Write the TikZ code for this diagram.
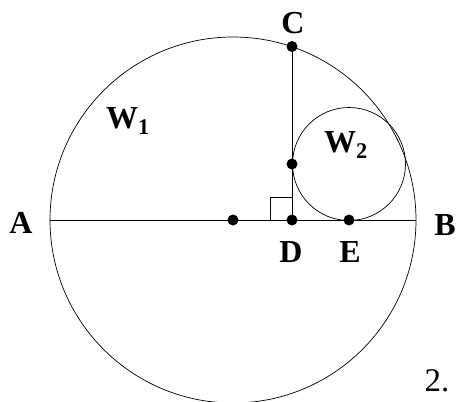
\documentclass[tikz,border=0pt]{standalone}
\usepackage{fontspec}
\setmainfont{Liberation Serif}
\tikzset{
  lbl/.style={font=\bfseries\fontsize{32}{32}\selectfont, inner sep=0pt},
  pt/.style={circle, fill=black, minimum size=11pt, inner sep=0pt},
  thin line/.style={line width=0.9pt}
}
\begin{document}
\begin{tikzpicture}[x=1pt,y=-1pt]
\useasboundingbox (0,0) rectangle (457,401);
% points
\coordinate (A) at (50,220);
\coordinate (B) at (416,220);
\coordinate (O) at (233,220);
\coordinate (D) at (292,220);
\coordinate (C) at (292,46.5);
\coordinate (E) at (349,220);
\coordinate (T) at (292,164);
\coordinate (O2) at (349,164);
% circles
\draw[line width=0.7pt] (O) circle[radius=183];
\draw[line width=0.7pt] (O2) circle[radius=56.5];
% lines
\draw[thin line] (A) -- (B);
\draw[thin line] (D) -- (C);
\coordinate (R1) at (270,220);
\coordinate (R2) at (270,197);
\coordinate (R3) at (292,197);
\draw[line width=0.7pt] (R1) -- (R2) -- (R3);
% dots
\node[pt] (pO) at (O) {};
\node[pt] (pD) at (D) {};
\node[pt] (pC) at (C) {};
\node[pt] (pE) at (E) {};
\node[pt] (pT) at (T) {};
% labels
\node[lbl] (lC) at (293,23) {C};
\node[lbl] (lA) at (21,223) {A};
\node[lbl] (lB) at (445,225) {B};
\node[lbl] (lD) at (291,252) {D};
\node[lbl] (lE) at (350,252) {E};
\node[lbl] (lW1) at (128,121) {W\textsubscript{1}};
\node[lbl] (lW2) at (346,145) {W\textsubscript{2}};
\node[font=\fontsize{33}{33}\selectfont, inner sep=0pt] (l2) at (437,381) {2.};
\end{tikzpicture}
\end{document}
